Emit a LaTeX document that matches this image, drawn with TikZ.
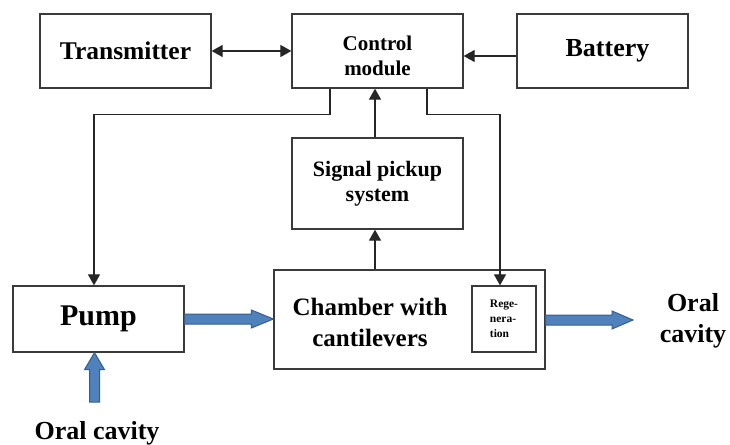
\documentclass[tikz,border=0pt]{standalone}
\usepackage{fontspec}
\setmainfont{Liberation Serif}
\usetikzlibrary{arrows.meta,calc}
\definecolor{boxline}{HTML}{3A3A3A}
\definecolor{flowfill}{HTML}{4F81BD}
\definecolor{flowline}{HTML}{385D8A}
\tikzset{
  blockbox/.style={draw=boxline, line width=1.3pt, rectangle, inner sep=0pt, align=center, font=\bfseries},
  sigline/.style={draw=black!85, line width=1.2pt},
  tip/.style={-{Triangle[length=11pt,width=12pt]}},
  bothtip/.style={{Triangle[length=11pt,width=12pt]}-{Triangle[length=11pt,width=12pt]}},
  flowarrow/.style={fill=flowfill, draw=flowline, line width=1pt, line join=miter},
  lbl/.style={inner sep=0pt, align=center, font=\bfseries}
}
\begin{document}
\begin{tikzpicture}[x=1pt,y=-1pt]
\useasboundingbox (0,0) rectangle (730,444);
% boxes
\node[blockbox, minimum width=171pt, minimum height=74pt, font=\bfseries\fontsize{25.5}{30}\selectfont] (trans) at (125.5,51) {Transmitter};
\node[blockbox, minimum width=171pt, minimum height=74pt, font=\bfseries\fontsize{21}{25}\selectfont] (ctrl) at (377.5,51) {\rule{0pt}{24pt}Control\\module};
\node[blockbox, minimum width=171pt, minimum height=74pt, font=\bfseries\fontsize{26}{30}\selectfont] (batt) at (602.5,51) {\hspace{10pt}Battery};
\node[blockbox, minimum width=171pt, minimum height=91pt, font=\bfseries\fontsize{22}{25}\selectfont] (sig) at (377.5,183.5) {Signal pickup\\system};
\node[blockbox, minimum width=171pt, minimum height=66pt, font=\bfseries\fontsize{30}{34}\selectfont] (pump) at (98.5,319) {Pump};
\node[blockbox, minimum width=271pt, minimum height=99pt] (chamber) at (409.5,319.5) {};
\node[lbl, font=\bfseries\fontsize{25}{31}\selectfont] (chambertext) at (370,322) {Chamber with\\cantilevers};
\node[blockbox, minimum width=64pt, minimum height=66pt, align=left, font=\bfseries\fontsize{11.5}{15}\selectfont] (regen) at (504,319) {Rege-\\nera-\\tion};
\node[lbl, font=\bfseries\fontsize{26}{31}\selectfont] (oralr) at (693,321) {Oral\\cavity};
\node[lbl, anchor=base, font=\bfseries\fontsize{26}{31}\selectfont] (oralb) at (97,439) {Oral cavity};
\coordinate (outtip) at (633,320);
\coordinate (intail) at (94.5,402);
% signal connectors
\draw[sigline, bothtip] (trans.east) -- (ctrl.west);
\draw[sigline, tip] ([yshift=-5pt]batt.west) -- ([yshift=-5pt]ctrl.east);
\draw[sigline, tip] ([xshift=-47.5pt]ctrl.south) -- ++(0,26) -| ([xshift=-4.5pt]pump.north);
\draw[sigline, tip] ([xshift=49.5pt]ctrl.south) -- ++(0,26) -| ([xshift=-4pt]regen.north);
\draw[sigline, tip] ([xshift=-2.5pt]sig.north) -- ([xshift=-2.5pt]ctrl.south);
\draw[sigline, tip] ([xshift=-2.5pt]sig.south |- chamber.north) -- ([xshift=-2.5pt]sig.south);
% flow arrows
\draw[flowarrow] let \p1=(pump.east), \p2=(chamber.west) in
  (\x1,\y1+5pt) -- (\x2-22pt,\y1+5pt) -- (\x2-22pt,\y1+9pt) -- (\x2,\y1) --
  (\x2-22pt,\y1-9pt) -- (\x2-22pt,\y1-5pt) -- (\x1,\y1-5pt) -- cycle;
\draw[flowarrow] let \p1=(chamber.east), \p2=(outtip) in
  (\x1,\y2+5pt) -- (\x2-21pt,\y2+5pt) -- (\x2-21pt,\y2+9pt) -- (\x2,\y2) --
  (\x2-21pt,\y2-9pt) -- (\x2-21pt,\y2-5pt) -- (\x1,\y2-5pt) -- cycle;
\draw[flowarrow] let \p1=(intail), \p2=(pump.south) in
  (\x1-5pt,\y1) -- (\x1-5pt,\y2-17pt) -- (\x1-10pt,\y2-17pt) -- (\x1,\y2) --
  (\x1+10pt,\y2-17pt) -- (\x1+5pt,\y2-17pt) -- (\x1+5pt,\y1) -- cycle;
\end{tikzpicture}
\end{document}
